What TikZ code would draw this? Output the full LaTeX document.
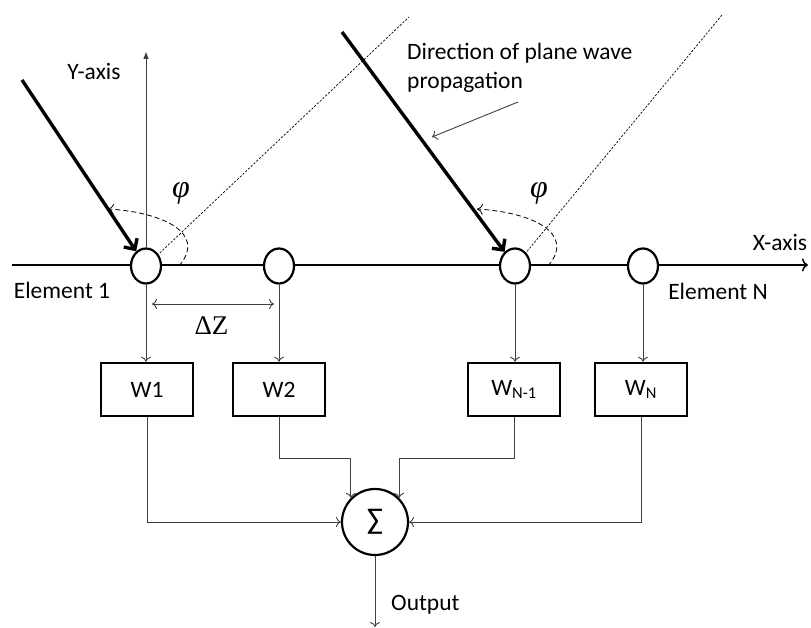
\documentclass[tikz,border=0pt]{standalone}
\usepackage{fontspec}
\setmainfont{Carlito}
\newfontfamily\serifx{Liberation Serif}
\usetikzlibrary{arrows.meta,shapes.geometric,calc}
\begin{document}
\begin{tikzpicture}[x=1pt,y=-1pt,
 txt/.style={font=\fontsize{23.5}{29}\selectfont, inner sep=0pt},
 elem/.style={ellipse, draw, line width=2.2pt, fill=white, minimum width=30pt, minimum height=35pt, inner sep=0pt},
 wbox/.style={draw, line width=2.5pt, minimum width=92pt, minimum height=53pt, inner sep=0pt, font=\fontsize{23.5}{29}\selectfont},
 thinc/.style={draw=black!75, line width=0.9pt},
 oarr/.style={-{To[length=5pt,width=10pt]}},
 wavearr/.style={line width=3.4pt, -{Straight Barb[length=8pt,width=16pt]}},
 dotl/.style={dash pattern=on 2.2pt off 1.6pt, line width=0.7pt},
 dasharc/.style={dash pattern=on 5pt off 3pt, line width=0.8pt, -{To[length=6pt,width=11pt]}},
 greek/.style={font=\serifx\itshape\fontsize{32}{32}\selectfont, inner sep=0pt},
]
\useasboundingbox (0,0) rectangle (811,628);
% coordinates
\coordinate (d1) at (409,17);
\coordinate (d2) at (722,15);
\coordinate (xl) at (12,265);
\coordinate (xr) at (808,265);
\coordinate (ytop) at (146,52);
\coordinate (t1) at (22,80);
\coordinate (t2) at (342,32);
\coordinate (h2) at (0,458);
\coordinate (out) at (375,627);
\coordinate (dz1) at (152,304);
\coordinate (dz2) at (274,304);
\coordinate (pa) at (518,102);
\coordinate (pb) at (432,137);
\coordinate (c1) at (146,266);
\coordinate (c3) at (515,266);
% dotted lines
\draw[dotl] (c1) -- (d1);
\draw[dotl] (c3) -- (d2);
% x-axis
\draw[line width=1.5pt, -{To[length=6pt,width=13pt]}] (xl) -- (xr);
% elements
\node[elem] (e1) at (146,266) {};
\node[elem] (e2) at (279,266) {};
\node[elem] (e3) at (515,266) {};
\node[elem] (e4) at (643,266) {};
% y-axis
\draw[draw=black!75, line width=0.9pt, -{Triangle[length=7pt,width=5pt]}] (e1.north) -- (ytop);
% wave arrows
\draw[wavearr] (t1) -- (e1);
\draw[wavearr] (t2) -- (e3);
% angle arcs
\draw[dasharc] (179,266) .. controls (208,232) and (160,212) .. (108,209);
\draw[dasharc] (548,266) .. controls (577,232) and (529,212) .. (477,209);
\node[greek] (phi1) at (181,193) {φ};
\node[greek] (phi2) at (539,193) {φ};
% labels
\node[txt] (ly) at (94,72) {Y-axis};
\node[txt] (lx) at (780,243) {X-axis};
\node[txt] (le1) at (62,290) {Element 1};
\node[txt] (leN) at (718,291) {Element N};
\node[txt, anchor=north west, align=left] (ldir) at (407,43) {Direction of plane wave\\ propagation};
\draw[thinc, oarr] (pa) -- (pb);
% delta Z
\draw[thinc, {To[length=5pt,width=10pt]}-{To[length=5pt,width=10pt]}] (dz1) -- (dz2);
\node[inner sep=0pt, font=\serifx\fontsize{27}{27}\selectfont] (ldz) at (211.5,325.5) {ΔZ};
% weight boxes
\node[wbox] (w1) at (147,389.5) {W1};
\node[wbox] (w2) at (279,389.5) {W2};
\node[wbox] (w3) at (514,389.5) {W\textsubscript{N-1}};
\node[wbox] (w4) at (641,389.5) {W\textsubscript{N}};
\draw[thinc, oarr] (e1.south) -- (e1.south |- w1.north);
\draw[thinc, oarr] (e2.south) -- (e2.south |- w2.north);
\draw[thinc, oarr] (e3.south) -- (e3.south |- w3.north);
\draw[thinc, oarr] (e4.south) -- (e4.south |- w4.north);
% summer
\node[circle, draw, line width=2.2pt, minimum size=66pt, inner sep=0pt, font=\fontsize{30}{30}\selectfont] (s) at (375,522) {∑};
\draw[thinc, oarr] (w1.south) |- (s.west);
\draw[thinc, oarr] (w4.south) |- (s.east);
\draw[thinc, oarr] (w2.south) |- (s.north west |- h2) -- (s.north west);
\draw[thinc, oarr] (w3.south) |- (s.north east |- h2) -- (s.north east);
\draw[thinc, oarr] (s.south) -- (out);
\node[txt, anchor=west] (lout) at (391,605) {Output};
\end{tikzpicture}
\end{document}
